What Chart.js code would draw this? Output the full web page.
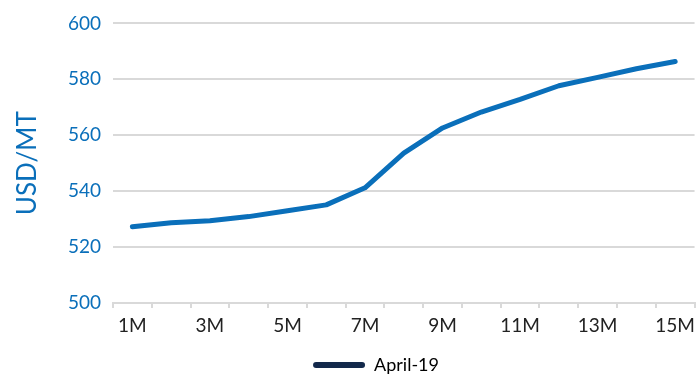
<!DOCTYPE html>
<html><head><meta charset="utf-8">
<script src="https://cdn.jsdelivr.net/npm/chart.js@4/dist/chart.umd.min.js"></script>
<style>html,body{margin:0;padding:0;background:#fff}#wrap{width:696px;height:374px}</style>
</head><body><div id="wrap"><canvas id="c" width="696" height="374"></canvas></div>
<script>
const categories = ["1M","2M","3M","4M","5M","6M","7M","8M","9M","10M","11M","12M","13M","14M","15M"];
const april19 = [527.3,528.7,529.4,530.9,533.0,535.1,541.2,553.6,562.6,568.3,572.8,577.7,580.7,583.8,586.4];
const yTicks = [500,520,540,560,580,600];
const seriesName = "April-19";
const FONT = "Lato";
const shiftLegend = {
  id: 'shiftLegend',
  afterLayout(chart) { const l = chart.legend; if (l) { l.left += 28; l.right += 28; l.top += 10; l.bottom += 10; } }
};
new Chart(document.getElementById('c'), {
  type: 'line',
  data: { labels: categories, datasets: [{ label: seriesName, data: april19, borderColor: '#0a6fba', borderWidth: 5, pointRadius: 0, tension: 0, borderCapStyle: 'round', borderJoinStyle: 'round', fill: false }] },
  plugins: [shiftLegend],
  options: {
    responsive: false, animation: false,
    layout: { padding: { top: 17, right: 0, left: 0, bottom: 0 } },
    plugins: {
      tooltip: { enabled: false },
      legend: { position: 'bottom',
        labels: { font: { family: FONT, size: 18 }, color: '#222', boxWidth: 52, boxHeight: 6, padding: 2, useBorderRadius: true, borderRadius: 3,
          generateLabels: (chart) => [{ text: seriesName, fillStyle: '#13294b', strokeStyle: '#13294b', lineWidth: 0, datasetIndex: 0, borderRadius: 3 }] } }
    },
    scales: {
      x: { offset: true,
        afterFit: (s) => { s.height = 41; },
        grid: { offset: true, drawOnChartArea: false, drawTicks: true, tickLength: 5, color: '#d9d9d9', lineWidth: 2 },
        border: { color: '#d9d9d9', width: 2 },
        ticks: { autoSkip: false, maxRotation: 0, color: '#222', font: { family: FONT, size: 19, lineHeight: 1.8 }, padding: 1,
          callback: function(v, i) { return i % 2 === 0 ? categories[i] : ''; } } },
      y: { min: 500, max: 600,
        afterBuildTicks: (s) => { s.ticks = yTicks.map(v => ({ value: v })); },
        afterFit: (s) => { s.width = 113; },
        grid: { drawTicks: false, color: '#d9d9d9', lineWidth: 2 },
        border: { display: false },
        title: { display: true, text: 'USD/MT', color: '#0a6fba', font: { family: FONT, size: 26 }, padding: { top: 12 } },
        ticks: { color: '#0a6fba', font: { family: FONT, size: 19 }, padding: 12 } }
    }
  }
});
</script></body></html>
